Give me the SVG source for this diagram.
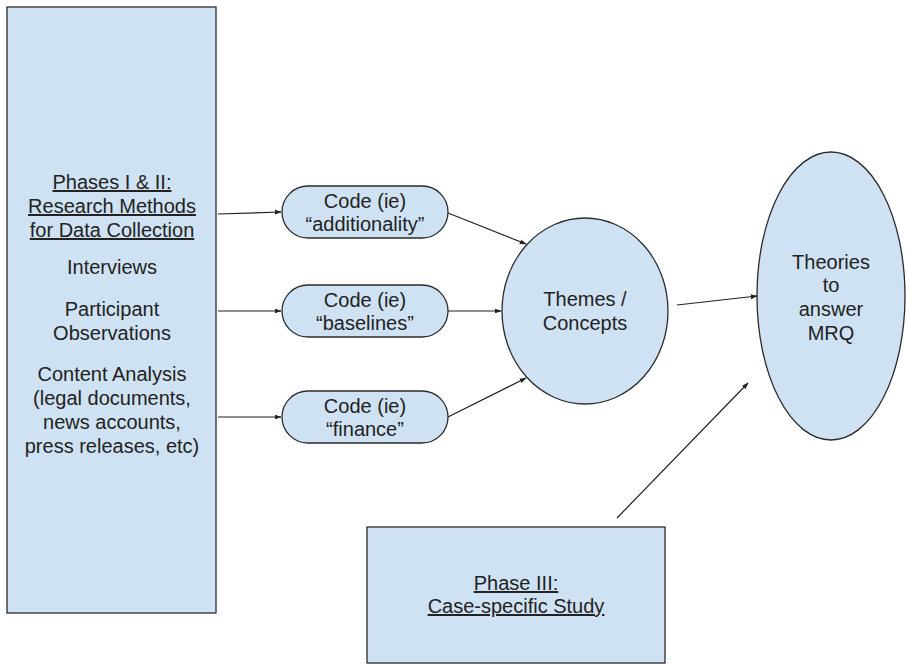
<svg xmlns="http://www.w3.org/2000/svg" width="906" height="664" viewBox="0 0 906 664">
<style>
.n{fill:#cfe2f3;stroke:#2b2b2b;stroke-width:1.3}
.t{font-family:"Liberation Sans",Arial,sans-serif;font-size:20px;fill:#222;text-anchor:middle}
.u{text-decoration:underline}
.c{stroke:#222;stroke-width:1.2;fill:none;marker-end:url(#ah)}
</style>
<defs>
<marker id="ah" viewBox="0 0 10 10" refX="9" refY="5" markerWidth="7" markerHeight="7" markerUnits="userSpaceOnUse" orient="auto">
<path d="M0,1.5 L10,5 L0,8.5 z" fill="#222"/>
</marker>
</defs>
<rect width="906" height="664" fill="#fff"/>
<g id="phases12">
<rect class="n" x="7" y="7" width="209" height="606"/>
<text class="t u" x="112" y="189">Phases I &amp; II:</text>
<text class="t u" x="112" y="213">Research Methods</text>
<text class="t u" x="112" y="237">for Data Collection</text>
<text class="t" x="112" y="274">Interviews</text>
<text class="t" x="112" y="316">Participant</text>
<text class="t" x="112" y="340">Observations</text>
<text class="t" x="112" y="381">Content Analysis</text>
<text class="t" x="112" y="405">(legal documents,</text>
<text class="t" x="112" y="429">news accounts,</text>
<text class="t" x="112" y="453">press releases, etc)</text>
</g>
<g id="code1">
<rect class="n" x="282" y="186" width="166" height="52" rx="26"/>
<text class="t" x="365" y="208">Code (ie)</text>
<text class="t" x="365" y="231">“additionality”</text>
</g>
<g id="code2">
<rect class="n" x="282" y="285" width="166" height="52" rx="26"/>
<text class="t" x="365" y="307">Code (ie)</text>
<text class="t" x="365" y="330">“baselines”</text>
</g>
<g id="code3">
<rect class="n" x="282" y="391" width="166" height="52" rx="26"/>
<text class="t" x="365" y="413">Code (ie)</text>
<text class="t" x="365" y="436">“finance”</text>
</g>
<g id="themes">
<ellipse class="n" cx="585" cy="311" rx="83" ry="93"/>
<text class="t" x="585" y="306">Themes /</text>
<text class="t" x="585" y="330">Concepts</text>
</g>
<g id="theories">
<ellipse class="n" cx="831" cy="296" rx="74" ry="144"/>
<text class="t" x="831" y="269">Theories</text>
<text class="t" x="831" y="292">to</text>
<text class="t" x="831" y="316">answer</text>
<text class="t" x="831" y="340">MRQ</text>
</g>
<g id="phase3">
<rect class="n" x="367" y="527" width="298" height="136"/>
<text class="t u" x="516" y="590">Phase III:</text>
<text class="t u" x="516" y="613">Case-specific Study</text>
</g>
<g id="connectors">
<line class="c" x1="218" y1="214" x2="281" y2="212"/>
<line class="c" x1="218" y1="311" x2="281" y2="311"/>
<line class="c" x1="218" y1="417" x2="281" y2="417"/>
<line class="c" x1="448" y1="213" x2="526" y2="244"/>
<line class="c" x1="448" y1="311" x2="501" y2="311"/>
<line class="c" x1="448" y1="417" x2="526" y2="378"/>
<line class="c" x1="677" y1="305" x2="757" y2="296"/>
<line class="c" x1="617" y1="518" x2="748" y2="383"/>
</g>
</svg>
